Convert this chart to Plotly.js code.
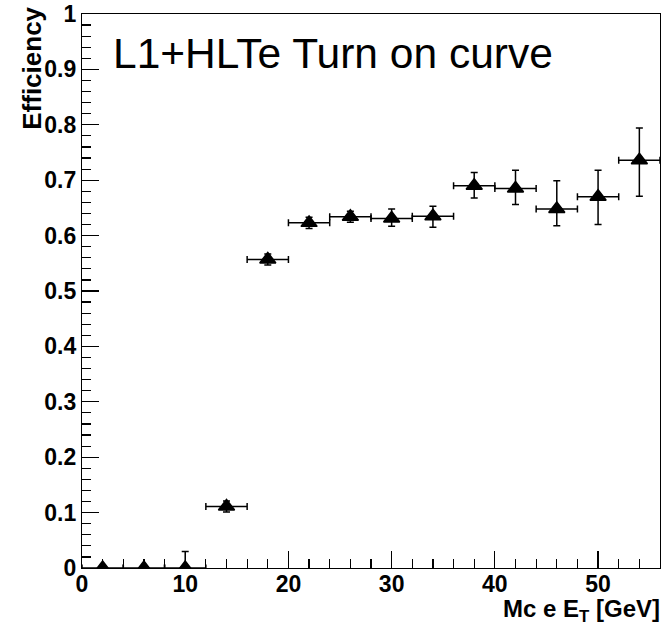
<!DOCTYPE html>
<html>
<head>
<meta charset="utf-8">
<script src="https://cdn.plot.ly/plotly-3.0.1.min.js"></script>
<style>html,body{margin:0;padding:0;background:#fff;}#chart{width:667px;height:627px;}</style>
</head>
<body>
<div id="chart"></div>
<script>
// Data
var etCenters = [2, 6, 10, 14, 18, 22, 26, 30, 34, 38, 42, 46, 50, 54];
var binHalfWidth = [2, 2, 2, 2, 2, 2, 2, 2, 2, 2, 2, 2, 2, 2];
var efficiency = [0, 0, 0, 0.111, 0.557, 0.623, 0.634, 0.631, 0.635, 0.690, 0.685, 0.648, 0.670, 0.736];
var errUp = [0, 0, 0.03, 0.01, 0.01, 0.01, 0.01, 0.017, 0.018, 0.024, 0.033, 0.051, 0.048, 0.058];
var errDown = [0, 0, 0, 0.01, 0.01, 0.01, 0.01, 0.014, 0.020, 0.022, 0.029, 0.030, 0.050, 0.065];
var xTickVals = [0, 10, 20, 30, 40, 50];
var xTickText = ["0", "10", "20", "30", "40", "50"];
var yTickVals = [0, 0.1, 0.2, 0.3, 0.4, 0.5, 0.6, 0.7, 0.8, 0.9, 1];
var yTickText = ["0", "0.1", "0.2", "0.3", "0.4", "0.5", "0.6", "0.7", "0.8", "0.9", "1"];
var chartTitle = "L1+HLTe Turn on curve";
var xTitle = "Mc e E<sub>T</sub> [GeV]";
var yTitle = "Efficiency";

var trace = {
  x: etCenters,
  y: efficiency,
  type: 'scatter',
  mode: 'markers',
  marker: {symbol: 'triangle-up', size: 14, color: '#000', line: {color: '#000', width: 1.5}},
  error_x: {type: 'data', array: binHalfWidth, arrayminus: binHalfWidth, symmetric: false, color: '#000', thickness: 1.5, width: 3.5},
  error_y: {type: 'data', array: errUp, arrayminus: errDown, symmetric: false, color: '#000', thickness: 1.5, width: 3.5},
  hoverinfo: 'skip'
};

var tickFont = {family: 'Liberation Sans, Arial, sans-serif', size: 23, color: '#000', weight: 'bold'};

var layout = {
  width: 667,
  height: 627,
  margin: {l: 82, r: 7, t: 14, b: 59},
  paper_bgcolor: '#fff',
  plot_bgcolor: '#fff',
  showlegend: false,
  xaxis: {
    range: [0, 56],
    tickmode: 'array',
    tickvals: xTickVals,
    ticktext: xTickText,
    ticks: 'inside',
    ticklen: 17,
    tickwidth: 1.2,
    tickcolor: '#000',
    minor: {dtick: 2, ticks: 'inside', ticklen: 9, tickwidth: 1.2, tickcolor: '#000', showgrid: false},
    showgrid: false,
    zeroline: false,
    showline: true,
    linecolor: '#000',
    linewidth: 1.2,
    mirror: true,
    tickfont: tickFont,
    ticklabelstandoff: -5
  },
  yaxis: {
    range: [0, 1],
    tickmode: 'array',
    tickvals: yTickVals,
    ticktext: yTickText,
    ticks: 'inside',
    ticklen: 17,
    tickwidth: 1.2,
    tickcolor: '#000',
    minor: {dtick: 0.02, ticks: 'inside', ticklen: 9, tickwidth: 1.2, tickcolor: '#000', showgrid: false},
    showgrid: false,
    zeroline: false,
    showline: true,
    linecolor: '#000',
    linewidth: 1.2,
    mirror: true,
    tickfont: tickFont,
    ticklabelstandoff: 0
  },
  annotations: [
    {
      text: chartTitle, xref: 'paper', yref: 'paper', x: 0.05, y: 0.928,
      xanchor: 'left', yanchor: 'middle', showarrow: false,
      font: {family: 'Liberation Sans, Arial, sans-serif', size: 42.5, color: '#000'}
    },
    {
      text: xTitle, xref: 'paper', yref: 'paper', x: 1.004, y: -0.046,
      xanchor: 'right', yanchor: 'top', showarrow: false,
      font: {family: 'Liberation Sans, Arial, sans-serif', size: 24, color: '#000', weight: 'bold'}
    },
    {
      text: yTitle, xref: 'paper', yref: 'paper', x: -0.088, y: 1.016,
      xanchor: 'center', yanchor: 'top', textangle: -90, showarrow: false,
      font: {family: 'Liberation Sans, Arial, sans-serif', size: 26, color: '#000', weight: 'bold'}
    }
  ]
};

Plotly.newPlot('chart', [trace], layout, {staticPlot: true, displayModeBar: false});
</script>
</body>
</html>
